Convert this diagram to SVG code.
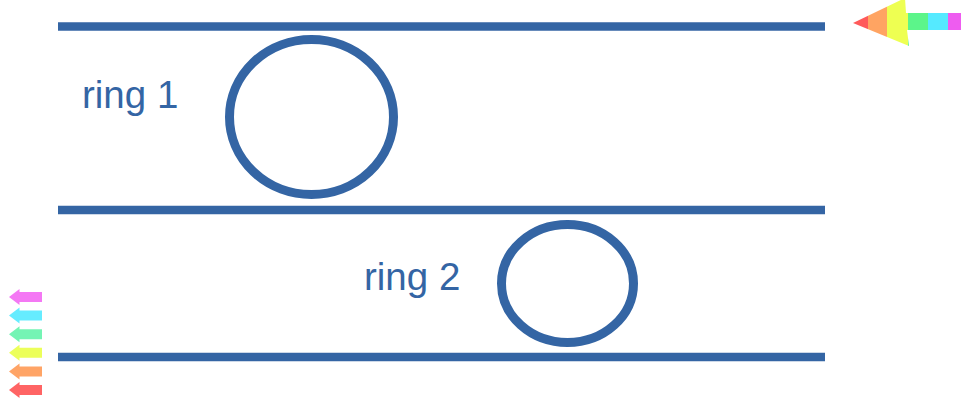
<svg xmlns="http://www.w3.org/2000/svg" width="961" height="407" viewBox="0 0 961 407">
<style>
.rail{stroke:#3465a4;stroke-width:8.5;fill:none}
.ring{stroke:#3465a4;stroke-width:9;fill:none}
.lbl{font-family:"Liberation Sans",Arial,sans-serif;font-size:38.5px;fill:#3465a4}
</style>
<defs>
<linearGradient id="rb" gradientUnits="userSpaceOnUse" x1="853" y1="0" x2="961" y2="0">
<stop offset="0" stop-color="#ff5a5a"/><stop offset="0.139" stop-color="#ff5a5a"/>
<stop offset="0.139" stop-color="#ffa462"/><stop offset="0.315" stop-color="#ffa462"/>
<stop offset="0.315" stop-color="#eeff52"/><stop offset="0.509" stop-color="#eeff52"/>
<stop offset="0.509" stop-color="#5cf58a"/><stop offset="0.694" stop-color="#5cf58a"/>
<stop offset="0.694" stop-color="#55eaff"/><stop offset="0.88" stop-color="#55eaff"/>
<stop offset="0.88" stop-color="#ee5cf0"/><stop offset="1" stop-color="#ee5cf0"/>
</linearGradient>
<polygon id="sa" points="9,0 19.5,-8 19.5,-5 42,-5 42,5 19.5,5 19.5,8"/>
</defs>
<rect width="961" height="407" fill="#fff"/>
<g id="rails">
<line class="rail" x1="58" y1="26.5" x2="825" y2="26.5"/>
<line class="rail" x1="58" y1="210" x2="825" y2="210"/>
<line class="rail" x1="58" y1="357" x2="825" y2="357"/>
</g>
<g id="ring1">
<ellipse class="ring" cx="311.5" cy="117" rx="82" ry="77.5"/>
<text class="lbl" x="82" y="108">ring 1</text>
</g>
<g id="ring2">
<ellipse class="ring" cx="567.5" cy="283.5" rx="66" ry="59"/>
<text class="lbl" x="364" y="290">ring 2</text>
</g>
<g id="rainbow-arrow">
<polygon fill="url(#rb)" points="853,23 905,-2 906,13 961,13 961,30 907,30 909,46"/>
</g>
<g id="small-arrows">
<use href="#sa" y="297" fill="#f478f4"/>
<use href="#sa" y="315.6" fill="#66ecff"/>
<use href="#sa" y="334.2" fill="#74f4b4"/>
<use href="#sa" y="352.8" fill="#ecff5a"/>
<use href="#sa" y="371.4" fill="#ffa466"/>
<use href="#sa" y="390" fill="#ff6464"/>
</g>
</svg>
